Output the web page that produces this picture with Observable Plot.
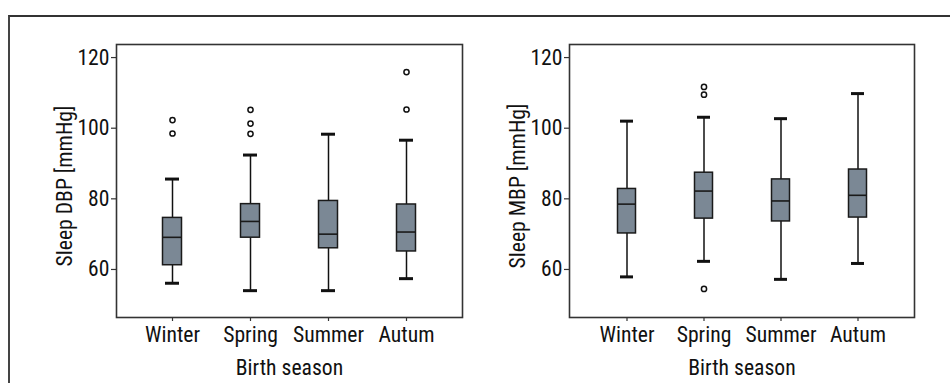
<!DOCTYPE html>
<html>
<head>
<meta charset="utf-8">
<script src="https://cdn.jsdelivr.net/npm/d3@7"></script>
<script src="https://cdn.jsdelivr.net/npm/@observablehq/plot@0.6"></script>
<style>
  html, body { margin: 0; padding: 0; background: #fff; }
  #wrap { position: relative; width: 950px; height: 383px; overflow: hidden; background: #fff; }
  #outer { position: absolute; left: 8px; top: 15px; right: -10px; bottom: -10px; border-top: 2px solid #333; border-left: 2px solid #444; }
  .panel { position: absolute; top: 0; }
</style>
</head>
<body>
<div id="wrap">
  <div id="outer"></div>
  <div id="p1" class="panel" style="left:0px"></div>
  <div id="p2" class="panel" style="left:475px"></div>
</div>
<script>
// ---- data ----
const seasons = ["Winter", "Spring", "Summer", "Autum"];
const yTicks = [60, 80, 100, 120];

// Sleep DBP [mmHg]
const dbpLow  = [56.1, 54.0, 54.0, 57.4];
const dbpQ1   = [61.2, 69.0, 66.0, 65.1];
const dbpMed  = [69.1, 73.6, 70.0, 70.6];
const dbpQ3   = [74.6, 78.5, 79.4, 78.4];
const dbpHigh = [85.6, 92.4, 98.3, 96.6];
const dbpOutSeason = ["Winter", "Winter", "Spring", "Spring", "Spring", "Autum", "Autum"];
const dbpOutValue  = [102.3, 98.5, 105.2, 101.3, 98.4, 115.9, 105.3];

// Sleep MBP [mmHg]
const mbpLow  = [57.9, 62.3, 57.2, 61.7];
const mbpQ1   = [70.2, 74.4, 73.6, 74.7];
const mbpMed  = [78.5, 82.2, 79.4, 81.0];
const mbpQ3   = [82.8, 87.4, 85.5, 88.3];
const mbpHigh = [102.0, 103.1, 102.7, 109.8];
const mbpOutSeason = ["Spring", "Spring", "Spring"];
const mbpOutValue  = [111.7, 109.5, 54.5];

// ---- pick an installed narrow font and size it to the reference text width ----
const ctx = document.createElement("canvas").getContext("2d");
function w(fontCss, s) { ctx.font = fontCss; return ctx.measureText(s).width; }
function installed(name) {
  const s = "Sleep DBP [mmHg] Winter 0123456789";
  return w(`72px '${name}', monospace`, s) !== w("72px monospace", s) &&
         w(`72px '${name}', serif`, s) !== w("72px serif", s);
}
const candidates = ["Liberation Sans Narrow", "Arial Narrow", "Roboto Condensed", "DejaVu Sans Condensed", "Roboto", "Liberation Sans", "Noto Sans"];
const chosen = candidates.find(installed) || "sans-serif";
const font = `'${chosen}', sans-serif`;
const targetWidth = 161; // px width of "Sleep DBP [mmHg]" in the reference
let fs = 22 * targetWidth / w(`22px ${font}`, "Sleep DBP [mmHg]");
fs = Math.min(23, Math.max(16, fs));

function makeTable(low, q1, med, q3, high) {
  return seasons.map((s, i) => ({season: s, low: low[i], q1: q1[i], med: med[i], q3: q3[i], high: high[i]}));
}
function makeOut(ss, vs) {
  return ss.map((s, i) => ({season: s, value: vs[i]}));
}

function panel(stats, outs, yLabel, marginLeft, marginRight) {
  const boxInset = 29.5, capInset = 32;
  return Plot.plot({
    width: 475,
    height: 383,
    marginLeft, marginRight,
    marginTop: 44,
    marginBottom: 66,
    style: {fontFamily: font, fontSize: fs + "px", color: "#111", background: "transparent"},
    x: {type: "band", domain: seasons, paddingInner: 0, paddingOuter: 0.217, label: null},
    y: {domain: [46.4, 123.7], label: null},
    marks: [
      Plot.axisY({ticks: yTicks, tickSize: 5, tickPadding: 2, label: null, fontSize: fs, stroke: "#333", strokeWidth: 1.2}),
      Plot.axisX({tickSize: 4, tickPadding: 5, label: null, fontSize: fs, stroke: "#333", strokeWidth: 1.2}),
      Plot.ruleX(stats, {x: "season", y1: "low", y2: "high", stroke: "#111", strokeWidth: 1.5}),
      Plot.tickY(stats, {x: "season", y: "low", insetLeft: capInset, insetRight: capInset, stroke: "#111", strokeWidth: 3}),
      Plot.tickY(stats, {x: "season", y: "high", insetLeft: capInset, insetRight: capInset, stroke: "#111", strokeWidth: 3}),
      Plot.barY(stats, {x: "season", y1: "q1", y2: "q3", insetLeft: boxInset, insetRight: boxInset, fill: "#7b8895", stroke: "#1a1a1a", strokeWidth: 1.5}),
      Plot.tickY(stats, {x: "season", y: "med", insetLeft: boxInset, insetRight: boxInset, stroke: "#1a1a1a", strokeWidth: 1.6}),
      Plot.dot(outs, {x: "season", y: "value", r: 2.6, fill: "white", stroke: "#111", strokeWidth: 1.5}),
      Plot.frame({stroke: "#333", strokeWidth: 1.6}),
      Plot.text([yLabel], {frameAnchor: "left", textAnchor: "middle", rotate: -90, lineAnchor: "top", dx: -60, dy: 5, fontSize: fs, fill: "#111"}),
      Plot.text(["Birth season"], {frameAnchor: "bottom", textAnchor: "middle", lineAnchor: "top", dy: 42, fontSize: fs, fill: "#111"})
    ]
  });
}

document.getElementById("p1").appendChild(
  panel(makeTable(dbpLow, dbpQ1, dbpMed, dbpQ3, dbpHigh), makeOut(dbpOutSeason, dbpOutValue), "Sleep DBP [mmHg]", 116, 13)
);
document.getElementById("p2").appendChild(
  panel(makeTable(mbpLow, mbpQ1, mbpMed, mbpQ3, mbpHigh), makeOut(mbpOutSeason, mbpOutValue), "Sleep MBP [mmHg]", 94, 36)
);
</script>
</body>
</html>
